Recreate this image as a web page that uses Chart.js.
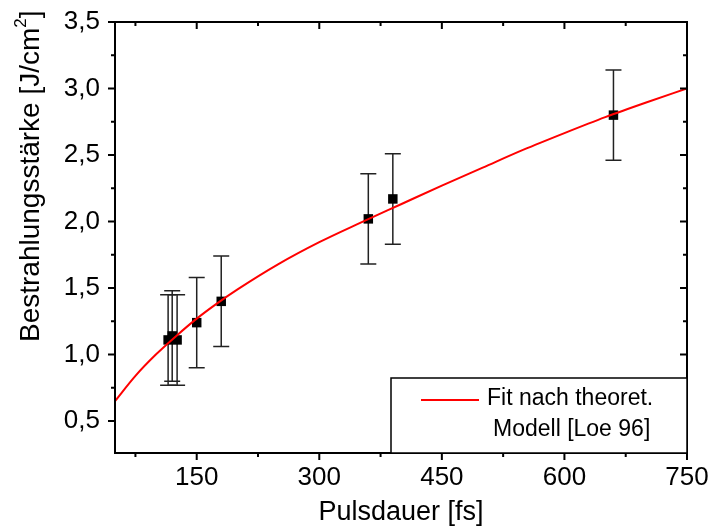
<!DOCTYPE html>
<html>
<head>
<meta charset="utf-8">
<script src="https://cdn.jsdelivr.net/npm/chart.js@4/dist/chart.umd.min.js"></script>
<style>
  html, body { margin: 0; padding: 0; background: #fff; }
  #wrap { width: 712px; height: 531px; }
</style>
</head>
<body>
<div id="wrap"><canvas id="chart" width="712" height="531"></canvas></div>
<script>
// axis ticks
const X_TICKS = [150, 300, 450, 600, 750];
const X_MINOR = [75, 225, 375, 525, 675];
const Y_TICKS = [0.5, 1.0, 1.5, 2.0, 2.5, 3.0, 3.5];
const Y_MINOR = [0.75, 1.25, 1.75, 2.25, 2.75, 3.25];

// measured points: pulse duration (fs), fluence (J/cm2), error
const PULSE = [115, 120, 126, 150, 180, 360, 390, 660];
const FLUENCE = [1.11, 1.14, 1.11, 1.24, 1.40, 2.02, 2.17, 2.80];
const FLUENCE_ERR = [0.34, 0.34, 0.34, 0.34, 0.34, 0.34, 0.34, 0.34];

// fit curve
const FIT_X = [50, 75, 100, 125, 150, 175, 200, 250, 300, 350, 400, 450, 500, 550, 600, 650, 700, 750];
const FIT_Y = [0.65, 0.84, 1.00, 1.14, 1.27, 1.385, 1.49, 1.68, 1.845, 1.99, 2.13, 2.27, 2.405, 2.54, 2.665, 2.785, 2.895, 3.00];

const LEGEND_LINES = ["Fit nach theoret.", "Modell [Loe 96]"];
const Y_TITLE = "Bestrahlungsstärke [J/cm";
const X_TITLE = "Pulsdauer [fs]";

const FONT = '"Liberation Sans", Arial, sans-serif';

const errorBars = {
  id: "errorBars",
  beforeDatasetsDraw(chart) {
    const ctx = chart.ctx, x = chart.scales.x, y = chart.scales.y;
    ctx.save();
    ctx.strokeStyle = "#222";
    ctx.lineWidth = 1.5;
    PULSE.forEach((p, i) => {
      const px = x.getPixelForValue(p);
      const top = y.getPixelForValue(FLUENCE[i] + FLUENCE_ERR[i]);
      const bot = y.getPixelForValue(FLUENCE[i] - FLUENCE_ERR[i]);
      ctx.beginPath();
      ctx.moveTo(px, top); ctx.lineTo(px, bot);
      ctx.moveTo(px - 8, top); ctx.lineTo(px + 8, top);
      ctx.moveTo(px - 8, bot); ctx.lineTo(px + 8, bot);
      ctx.stroke();
    });
    ctx.restore();
  }
};

const frame = {
  id: "frame",
  afterDraw(chart) {
    const ctx = chart.ctx, a = chart.chartArea, x = chart.scales.x, y = chart.scales.y;
    ctx.save();
    ctx.strokeStyle = "#000";
    ctx.lineWidth = 2;
    ctx.strokeRect(a.left, a.top, a.right - a.left, a.bottom - a.top);

    ctx.beginPath();
    const tickX = (v, len) => {
      const px = x.getPixelForValue(v);
      ctx.moveTo(px, a.bottom); ctx.lineTo(px, a.bottom + len);
      ctx.moveTo(px, a.top); ctx.lineTo(px, a.top + len);
    };
    const tickY = (v, len) => {
      const py = y.getPixelForValue(v);
      ctx.moveTo(a.left, py); ctx.lineTo(a.left - len, py);
      ctx.moveTo(a.right, py); ctx.lineTo(a.right - len, py);
    };
    X_TICKS.forEach(v => tickX(v, 7));
    X_MINOR.forEach(v => tickX(v, 4));
    Y_TICKS.forEach(v => tickY(v, 7));
    Y_MINOR.forEach(v => tickY(v, 4));
    ctx.stroke();

    // legend box
    const lx = a.right - 296, ly = a.bottom - 75;
    ctx.fillStyle = "#fff";
    ctx.fillRect(lx, ly, 296, 75);
    ctx.lineWidth = 1.5;
    ctx.strokeRect(lx, ly, 296, 75);
    ctx.strokeStyle = "#ff0000";
    ctx.lineWidth = 2;
    ctx.beginPath();
    ctx.moveTo(lx + 30, ly + 22); ctx.lineTo(lx + 88, ly + 22);
    ctx.stroke();
    ctx.fillStyle = "#000";
    ctx.font = '23px ' + FONT;
    ctx.textBaseline = "middle";
    ctx.textAlign = "left";
    ctx.fillText(LEGEND_LINES[0], lx + 96, ly + 21);
    ctx.fillText(LEGEND_LINES[1], lx + 102, ly + 52);

    // y title with superscript
    ctx.translate(39, 342);
    ctx.rotate(-Math.PI / 2);
    ctx.textBaseline = "alphabetic";
    ctx.font = '28px ' + FONT;
    ctx.fillText(Y_TITLE, 0, 0);
    let w = ctx.measureText(Y_TITLE).width;
    ctx.font = '17px ' + FONT;
    ctx.fillText("2", w, -13);
    w += ctx.measureText("2").width;
    ctx.font = '28px ' + FONT;
    ctx.fillText("]", w, 0);
    ctx.restore();
  }
};

new Chart(document.getElementById("chart"), {
  data: {
    datasets: [
      {
        type: "line",
        label: LEGEND_LINES.join(" "),
        data: FIT_X.map((v, i) => ({ x: v, y: FIT_Y[i] })),
        borderColor: "#ff0000",
        borderWidth: 2,
        pointRadius: 0,
        cubicInterpolationMode: "monotone",
        fill: false
      },
      {
        type: "scatter",
        label: "Messwerte",
        data: PULSE.map((v, i) => ({ x: v, y: FLUENCE[i] })),
        pointStyle: "rect",
        pointRadius: 6.7,
        backgroundColor: "#000",
        borderColor: "#000",
        borderWidth: 0
      }
    ]
  },
  options: {
    responsive: false,
    animation: false,
    devicePixelRatio: 1,
    layout: { padding: { top: 22, right: 25, left: 0, bottom: 0 } },
    plugins: { legend: { display: false }, tooltip: { enabled: false } },
    scales: {
      x: {
        type: "linear",
        min: 50,
        max: 750,
        afterBuildTicks: s => { s.ticks = X_TICKS.map(v => ({ value: v })); },
        afterFit: s => { s.height = 78; s.paddingLeft = 0; s.paddingRight = 0; },
        grid: { display: false, drawTicks: false },
        border: { display: false },
        ticks: { color: "#000", padding: 9, maxRotation: 0, font: { family: FONT, size: 26 } },
        title: { display: true, text: X_TITLE, color: "#000", padding: { top: 0, bottom: 2 }, font: { family: FONT, size: 27 } }
      },
      y: {
        type: "linear",
        min: 0.26,
        max: 3.5,
        afterBuildTicks: s => { s.ticks = Y_TICKS.map(v => ({ value: v })); },
        afterFit: s => { s.width = 115; s.paddingTop = 0; s.paddingBottom = 0; },
        grid: { display: false, drawTicks: false },
        border: { display: false },
        ticks: {
          color: "#000", padding: 15, font: { family: FONT, size: 26 },
          callback: v => v.toFixed(1).replace(".", ",")
        }
      }
    }
  },
  plugins: [errorBars, frame]
});
</script>
</body>
</html>
